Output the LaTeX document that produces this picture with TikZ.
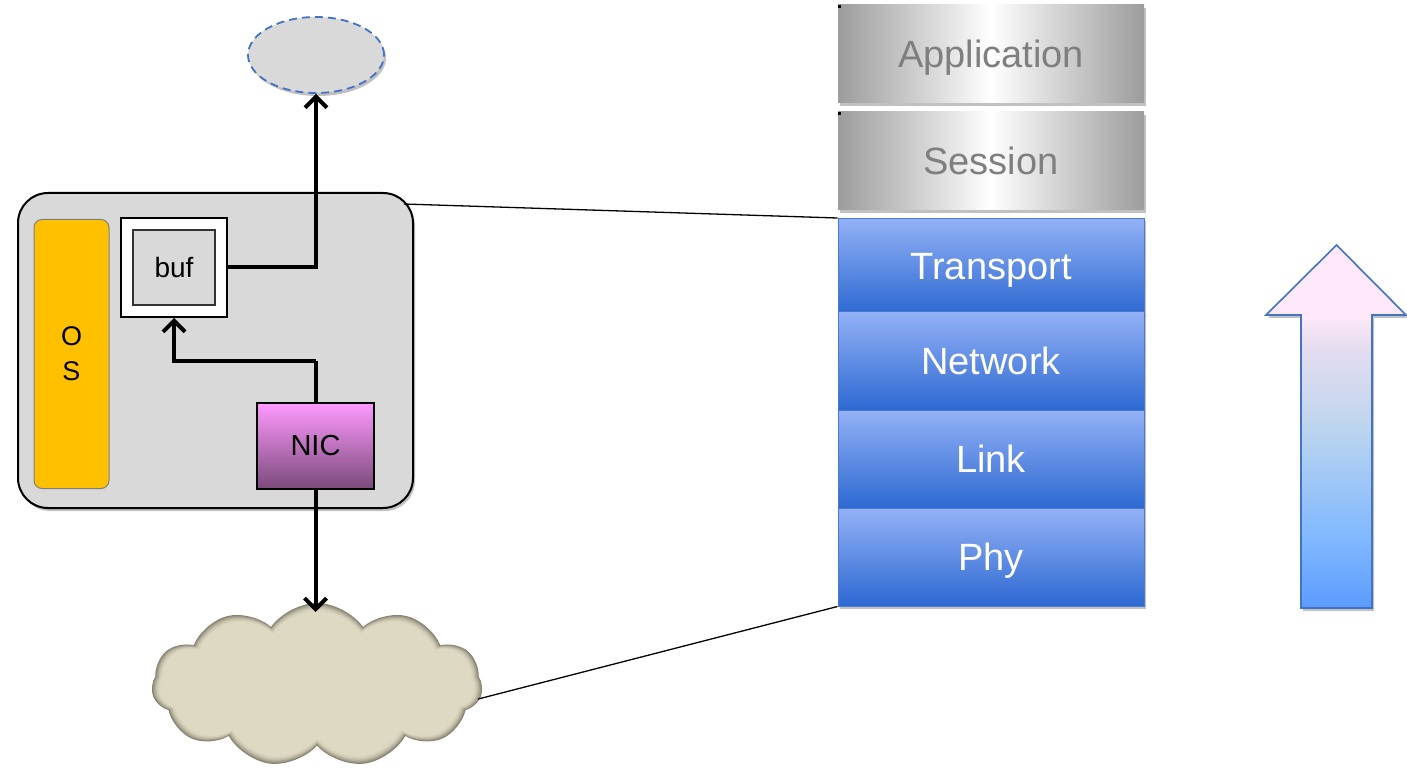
\documentclass[tikz,border=0pt]{standalone}
\usepackage{fontspec}
\setmainfont{Liberation Sans}
\usetikzlibrary{shapes.geometric,shapes.symbols,shadows,arrows.meta,calc}

\definecolor{panel}{HTML}{D9D9D9}
\definecolor{osyellow}{HTML}{FFC000}
\definecolor{osedge}{HTML}{7F7F7F}
\definecolor{nictop}{HTML}{FF99FF}
\definecolor{nicbot}{HTML}{7A4A7A}
\definecolor{edgeblue}{HTML}{4472C4}
\definecolor{layertop}{HTML}{93B1F6}
\definecolor{layerbot}{HTML}{2D69D2}
\definecolor{layeredge}{HTML}{4A7BD0}
\definecolor{graylayer}{HTML}{9C9C9C}
\definecolor{graytext}{HTML}{7F7F7F}
\definecolor{cloudfill}{HTML}{DDD9C3}
\definecolor{cloudA}{HTML}{868270}
\definecolor{arrowbot}{HTML}{5B9BFF}
\definecolor{arrowlow}{HTML}{82B9FF}
\definecolor{arrowmid}{HTML}{BDD5EE}
\definecolor{arrowlav}{HTML}{E6DDF0}
\definecolor{arrowpink}{HTML}{FCE8F8}

% vertical ramp for the large upward arrow (path box maps to 25bp..75bp)
\pgfdeclareverticalshading{uparrowramp}{100bp}{%
  color(0bp)=(arrowbot); color(25bp)=(arrowbot); color(35bp)=(arrowlow);
  color(50bp)=(arrowmid); color(61bp)=(arrowlav); color(65bp)=(arrowpink);
  color(100bp)=(arrowpink)}

\tikzset{
  softshadow/.style={drop shadow={shadow xshift=2pt,shadow yshift=-3pt,opacity=0.35,fill=black!70}},
  flow/.style={line width=4pt,-{Straight Barb[length=11pt,width=22pt]}},
  flowplain/.style={line width=4pt},
  guide/.style={line width=1.3pt,black},
  layerfont/.style={font=\fontsize{38}{42}\selectfont,text depth=0pt},
  graylayerbox/.style={rectangle,inner sep=0pt,minimum width=306pt,minimum height=98pt,
    left color=graylayer,right color=graylayer,middle color=white,
    text=graytext,layerfont,softshadow},
  bluelayerbox/.style={rectangle,inner sep=0pt,minimum width=306pt,minimum height=98pt,
    top color=layertop,bottom color=layerbot,draw=layeredge,line width=1pt,
    text=white,layerfont,softshadow},
  cloudpuff/.style={cloud,cloud puffs=11,cloud puff arc=110,aspect=2.05,inner sep=0pt},
}

\begin{document}
\begin{tikzpicture}[x=1pt,y=-1pt]
\useasboundingbox (0,0) rectangle (1407,775);

% ---- host ----
\node[rectangle,rounded corners=30pt,draw=black,line width=2pt,fill=panel,softshadow,
      minimum width=395pt,minimum height=315pt,inner sep=0pt] (host) at (215.5,350.5) {};
\node[rectangle,rounded corners=8pt,draw=osedge,line width=1pt,fill=osyellow,
      minimum width=75pt,minimum height=269pt,inner sep=0pt,align=center,
      font=\fontsize{27}{35}\selectfont] (os) at (71.5,354) {O\\S};
\node[rectangle,draw=black,line width=2pt,fill=white,minimum width=106pt,minimum height=99pt,
      inner sep=0pt] (bufout) at (174,267.5) {};
\node[rectangle,draw=black!80,line width=1.5pt,fill=panel,minimum width=82pt,minimum height=75pt,
      inner sep=0pt,font=\fontsize{28}{30}\selectfont] (buf) at (174,267.5) {buf};
\node[rectangle,draw=black,line width=2pt,top color=nictop,bottom color=nicbot,
      minimum width=117pt,minimum height=86pt,inner sep=0pt,
      font=\fontsize{29}{30}\selectfont] (nic) at (315.5,446) {NIC};

% ---- destination above the host ----
\node[ellipse,draw=edgeblue,line width=1.8pt,dash pattern=on 8pt off 5pt,fill=panel,softshadow,
      minimum width=136pt,minimum height=76pt,inner sep=0pt] (dest) at (316,55) {};

% ---- network cloud: dark outer rim fading into the fill ----
\node[cloudpuff,fill=cloudA,minimum width=331pt,minimum height=164pt] (cloud) at (317,685) {};
\foreach \i in {1,...,8}{
  \pgfmathsetmacro{\pct}{100*(1-(1-\i/8)^2)}
  \pgfmathsetmacro{\cw}{331-2.2*\i}
  \pgfmathsetmacro{\ch}{164-2.2*\i}
  \node[cloudpuff,fill=cloudfill!\pct!cloudA,minimum width=\cw pt,minimum height=\ch pt]
    (cloudrim\i) at (317,685) {};
}

% ---- data path ----
\coordinate (turn) at ($(nic.north)+(0,-41)$);
\draw[flowplain] (nic.north) -- (turn);
\draw[flow] (turn) -| (bufout.south);
\draw[flow] (bufout.east) -| (dest.south);
\coordinate (cloudtop) at (nic.south |- 0,612);
\draw[flow] (nic.south) -- (cloudtop);

% ---- protocol stack ----
\node[graylayerbox] (app) at (991,54) {Application};
\node[graylayerbox] (sess) at (991,161) {Session};
\node[bluelayerbox,minimum height=95pt] (trans) at (991,266) {Transport};
\node[bluelayerbox] (net) at (991,361) {Network};
\node[bluelayerbox] (link) at (991,459) {Link};
\node[bluelayerbox] (phy) at (991,557) {Phy};
\fill[black] (app.north west) rectangle ++(3,3);
\fill[black] (sess.north west) rectangle ++(3,3);

% ---- zoom lines from host and cloud to the stack ----
\coordinate (hostcorner) at ($(host.north east)+(-10,12)$);
\coordinate (cloudedge) at ($(cloud.east)+(-4,14)$);
\draw[guide] (hostcorner) -- (trans.north west);
\draw[guide] (cloudedge) -- (phy.south west);

% ---- large upward arrow ----
\path[shading=uparrowramp,draw=edgeblue,line width=1.6pt,softshadow]
  (1301,608) -- (1301,315) -- (1266,315) -- (1336.5,245) -- (1406,315)
  -- (1372,315) -- (1372,608) -- cycle;
\end{tikzpicture}
\end{document}
